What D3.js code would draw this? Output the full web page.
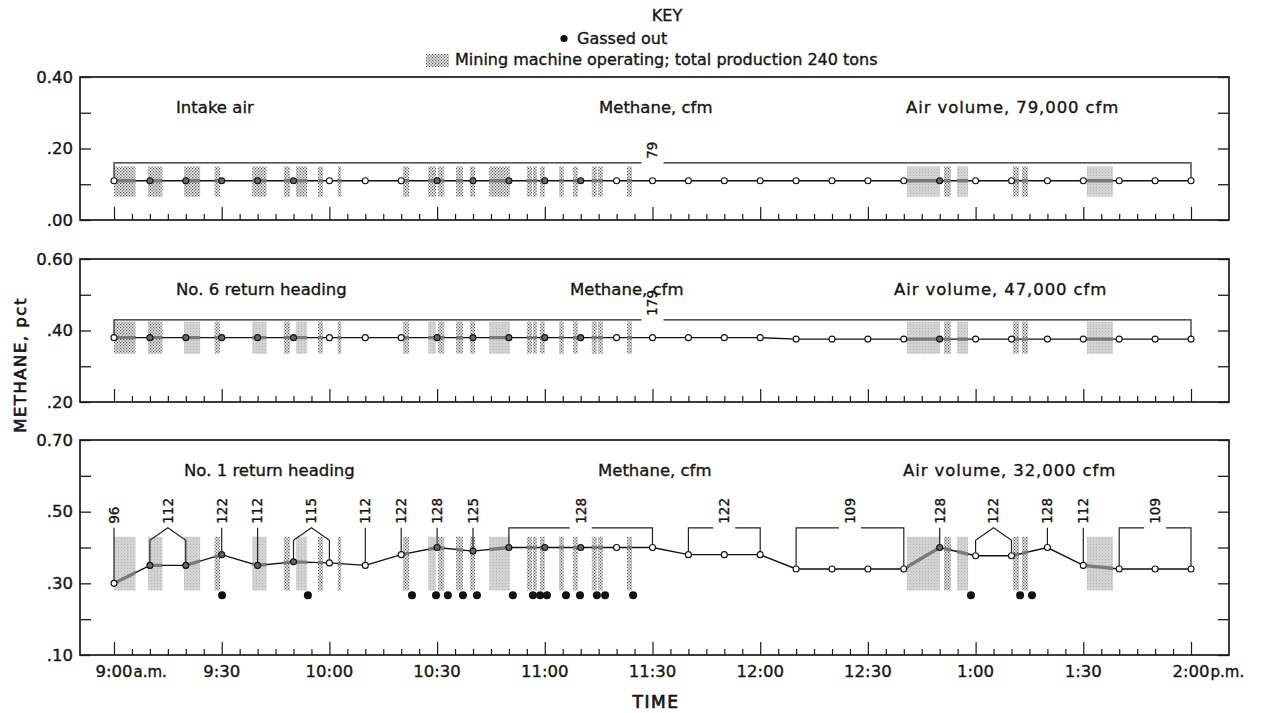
<!DOCTYPE html>
<html>
<head>
<meta charset="utf-8">
<script src="https://cdn.jsdelivr.net/npm/d3@7/dist/d3.min.js"></script>
<style>
  body { margin: 0; background: #fff; }
  svg text { font-family: "DejaVu Sans", sans-serif; fill: #151515; stroke: #151515; stroke-width: 0.35px; }
</style>
</head>
<body>
<div id="chart"></div>
<script>
// readings every 10 min, minutes after 9:00 a.m.
const readTimes = [0, 10, 20, 30, 40, 50, 60, 70, 80, 90, 100, 110, 120, 130, 140, 150,
    160, 170, 180, 190, 200, 210, 220, 230, 240, 250, 260, 270, 280, 290, 300];

// methane, pct
const intakePct = [0.11, 0.11, 0.11, 0.11, 0.11, 0.11, 0.11, 0.11, 0.11, 0.11, 0.11, 0.11, 0.11, 0.11, 0.11, 0.11,
    0.11, 0.11, 0.11, 0.11, 0.11, 0.11, 0.11, 0.11, 0.11, 0.11, 0.11, 0.11, 0.11, 0.11, 0.11];
const no6Pct = [0.38, 0.38, 0.38, 0.38, 0.38, 0.38, 0.38, 0.38, 0.38, 0.38, 0.38, 0.38, 0.38, 0.38, 0.38, 0.38,
    0.38, 0.38, 0.38, 0.376, 0.376, 0.376, 0.376, 0.376, 0.376, 0.376, 0.376, 0.376, 0.376, 0.376, 0.376];
const no1Pct = [0.30, 0.35, 0.35, 0.38, 0.35, 0.36, 0.357, 0.35, 0.38, 0.40, 0.39, 0.40, 0.40, 0.40, 0.40, 0.40,
    0.38, 0.38, 0.38, 0.34, 0.34, 0.34, 0.34, 0.40, 0.377, 0.377, 0.40, 0.35, 0.34, 0.34, 0.34];

// mining machine operating, [start, end] minutes after 9:00
const machineRuns = [[0, 6], [9.5, 13.5], [19.5, 24], [28, 29.5], [38.5, 42.5], [47.3, 49], [50.7, 53.8],
    [56.8, 58.2], [62.3, 63.3], [80.5, 82.2], [87.5, 89.7], [90.3, 92], [95.3, 97.2], [99.2, 100.6],
    [104.5, 110.3], [115, 116.4], [116.7, 117.8], [118.7, 120], [124, 125.3], [127.9, 129.2],
    [133.1, 134.5], [134.8, 136.2], [142.9, 144.3], [220.9, 230.1], [231.2, 233.1], [234.8, 237.9],
    [250.4, 252.1], [252.9, 254.6], [271, 278.3]];

// gassed out (No. 1 return heading), minutes after 9:00
const gassedOut = [30.1, 54, 83, 89.7, 93, 97.2, 101.1, 111.1, 116.7, 118.7, 120.6, 125.9, 129.8,
    134.5, 136.8, 144.6, 238.7, 252.4, 255.7];

// methane, cfm notes
const intakeNotes = [{cfm: "79", from: 0, to: 300, kind: "span"}];
const no6Notes = [{cfm: "179", from: 0, to: 300, kind: "span"}];
const no1Notes = [
    {cfm: "96", from: 0, to: 0, kind: "point"},
    {cfm: "112", from: 10, to: 20, kind: "pair"},
    {cfm: "122", from: 30, to: 30, kind: "point"},
    {cfm: "112", from: 40, to: 40, kind: "point"},
    {cfm: "115", from: 50, to: 60, kind: "pair"},
    {cfm: "112", from: 70, to: 70, kind: "point"},
    {cfm: "122", from: 80, to: 80, kind: "point"},
    {cfm: "128", from: 90, to: 90, kind: "point"},
    {cfm: "125", from: 100, to: 100, kind: "point"},
    {cfm: "128", from: 110, to: 150, kind: "span"},
    {cfm: "122", from: 160, to: 180, kind: "span"},
    {cfm: "109", from: 190, to: 220, kind: "span"},
    {cfm: "128", from: 230, to: 230, kind: "point"},
    {cfm: "122", from: 240, to: 250, kind: "pair"},
    {cfm: "128", from: 260, to: 260, kind: "point"},
    {cfm: "112", from: 270, to: 270, kind: "point"},
    {cfm: "109", from: 280, to: 300, kind: "span"}
];

const timeTicks = [0, 30, 60, 90, 120, 150, 180, 210, 240, 270, 300];
const timeLabels = ["9:00", "9:30", "10:00", "10:30", "11:00", "11:30", "12:00", "12:30", "1:00", "1:30", "2:00"];

const intakeTickLabels = [".00", ".20", "0.40"];
const no6TickLabels = [".20", ".40", "0.60"];
const no1TickLabels = [".10", ".30", ".50", "0.70"];

const panels = [
    {key: "intake", name: "Intake air", air: "Air volume, 79,000 cfm", nameX: 176, methX: 599, airX: 906,
        values: intakePct, notes: intakeNotes, tickLabels: intakeTickLabels,
        domain: [0, 0.4], top: 77, bottom: 220, band: [0.065, 0.15], bracket: 0.16},
    {key: "no6", name: "No. 6 return heading", air: "Air volume, 47,000 cfm", nameX: 176, methX: 570, airX: 894,
        values: no6Pct, notes: no6Notes, tickLabels: no6TickLabels,
        domain: [0.2, 0.6], top: 259, bottom: 402, band: [0.335, 0.425], bracket: 0.43},
    {key: "no1", name: "No. 1 return heading", air: "Air volume, 32,000 cfm", nameX: 184, methX: 598, airX: 903,
        values: no1Pct, notes: no1Notes, tickLabels: no1TickLabels,
        domain: [0.1, 0.7], top: 440, bottom: 655, band: [0.28, 0.43], bracket: 0.455, shoulder: 0.42,
        gassedLevel: 0.267}
];

const width = 1263, height = 713;
const left = 80, right = 1229;

const svg = d3.select("#chart").append("svg")
    .attr("width", width)
    .attr("height", height);

const defs = svg.append("defs");

// stipple like the key swatch
let stip = defs.append("pattern").attr("id", "stipple")
    .attr("patternUnits", "userSpaceOnUse").attr("width", 3).attr("height", 3);
stip.append("rect").attr("width", 3).attr("height", 3).attr("fill", "#ececec");
stip.append("rect").attr("x", 0).attr("y", 0).attr("width", 1.2).attr("height", 1.2).attr("fill", "#555");
stip.append("rect").attr("x", 1.5).attr("y", 1.5).attr("width", 1.2).attr("height", 1.2).attr("fill", "#555");

let grain = defs.append("pattern").attr("id", "grain")
    .attr("patternUnits", "userSpaceOnUse").attr("width", 3).attr("height", 3);
grain.append("rect").attr("width", 3).attr("height", 3).attr("fill", "#d3d3d3");
grain.append("rect").attr("x", 1).attr("y", 1).attr("width", 1).attr("height", 1).attr("fill", "#b4b4b4");

const x = d3.scaleLinear().domain([0, 300]).range([114, 1191]);

function bandFill(p, run) {
    if (run[1] - run[0] < 2) return "url(#stipple)";
    if (p.key === "intake" && run[0] < 180) return "url(#stipple)";
    if (p.key === "no6" && run[0] < 15) return "url(#stipple)";
    return "url(#grain)";
}

function inRun(t) {
    return machineRuns.some(r => t > r[0] && t <= r[1] + 1);
}

panels.forEach(p => {
    const y = d3.scaleLinear().domain(p.domain).range([p.bottom, p.top]);
    const g = svg.append("g").attr("class", "panel-" + p.key);
    const valueAt = t => p.values[readTimes.indexOf(t)];
    const r = 3;

    // machine operating bands
    g.selectAll(".run")
        .data(machineRuns)
        .enter()
        .append("rect")
        .attr("class", "run")
        .attr("x", d => x(d[0]))
        .attr("width", d => x(d[1]) - x(d[0]))
        .attr("y", y(p.band[1]))
        .attr("height", y(p.band[0]) - y(p.band[1]))
        .attr("fill", d => bandFill(p, d));

    // methane cfm notes
    const yb = y(p.bracket);
    p.notes.forEach(n => {
        const x0 = x(n.from), x1 = x(n.to), xm = (x0 + x1) / 2;
        const y0 = y(valueAt(n.from)) - r, y1 = y(valueAt(n.to)) - r;
        let path = d3.path();
        if (n.kind === "point") {
            path.moveTo(xm, yb);
            path.lineTo(xm, y0);
        } else if (n.kind === "pair") {
            const ys = y(p.shoulder);
            path.moveTo(x0, y0);
            path.lineTo(x0, ys);
            path.lineTo(xm, yb);
            path.lineTo(x1, ys);
            path.lineTo(x1, y1);
        } else {
            path.moveTo(x0, y0);
            path.lineTo(x0, yb);
            path.lineTo(xm - 11, yb);
            path.moveTo(xm + 11, yb);
            path.lineTo(x1, yb);
            path.lineTo(x1, y1);
        }
        g.append("path")
            .attr("d", path.toString())
            .attr("fill", "none")
            .attr("stroke", "#222")
            .attr("stroke-width", 1.2);
        g.append("text")
            .attr("transform", `translate(${xm},${yb - 4}) rotate(-90)`)
            .attr("dy", "0.36em")
            .attr("font-size", 13.5)
            .text(n.cfm);
    });

    // methane pct line
    const line = d3.line()
        .x((d, i) => x(readTimes[i]))
        .y(d => y(d));

    g.append("path")
        .datum(p.values)
        .attr("d", line)
        .attr("fill", "none")
        .attr("stroke", "#111")
        .attr("stroke-width", 1.4);

    const clip = defs.append("clipPath").attr("id", "clip-" + p.key);
    clip.selectAll("rect")
        .data(machineRuns)
        .enter()
        .append("rect")
        .attr("x", d => x(d[0]))
        .attr("width", d => x(d[1]) - x(d[0]))
        .attr("y", p.top)
        .attr("height", p.bottom - p.top);

    g.append("path")
        .datum(p.values)
        .attr("d", line)
        .attr("clip-path", `url(#clip-${p.key})`)
        .attr("fill", "none")
        .attr("stroke", "#7a7a7a")
        .attr("stroke-width", 3.4);

    g.selectAll(".pt")
        .data(p.values)
        .enter()
        .append("circle")
        .attr("class", "pt")
        .attr("cx", (d, i) => x(readTimes[i]))
        .attr("cy", d => y(d))
        .attr("r", r)
        .attr("fill", (d, i) => inRun(readTimes[i]) ? "#666" : "#fff")
        .attr("stroke", "#111")
        .attr("stroke-width", 1.1);

    if (p.gassedLevel) {
        g.selectAll(".gas")
            .data(gassedOut)
            .enter()
            .append("circle")
            .attr("class", "gas")
            .attr("cx", d => x(d))
            .attr("cy", y(p.gassedLevel))
            .attr("r", 4)
            .attr("fill", "#111");
    }

    // frame
    g.append("rect")
        .attr("x", left)
        .attr("y", p.top)
        .attr("width", right - left)
        .attr("height", p.bottom - p.top)
        .attr("fill", "none")
        .attr("stroke", "#1a1a1a")
        .attr("stroke-width", 1.7);

    // axes
    const yTicks = d3.range(p.domain[0], p.domain[1] + 0.001, 0.1);
    const yLeft = d3.axisLeft(y)
        .tickValues(yTicks)
        .tickSizeInner(-11)
        .tickSizeOuter(0)
        .tickPadding(7)
        .tickFormat((d, i) => i % 2 === 0 ? p.tickLabels[i / 2] : "");

    g.append("g")
        .attr("transform", `translate(${left},0)`)
        .call(yLeft)
        .call(a => a.select(".domain").remove())
        .call(a => a.attr("font-family", null).attr("font-size", null))
        .call(a => a.selectAll(".tick line").attr("stroke", "#1a1a1a").attr("stroke-width", 1.3))
        .call(a => a.selectAll(".tick text").attr("font-size", 16.5).attr("fill", "#151515"));

    g.append("g")
        .attr("transform", `translate(${right},0)`)
        .call(d3.axisRight(y).tickValues(yTicks).tickSizeInner(-11).tickSizeOuter(0).tickFormat(""))
        .call(a => a.select(".domain").remove())
        .call(a => a.selectAll(".tick line").attr("stroke", "#1a1a1a").attr("stroke-width", 1.3));

    g.append("g")
        .attr("transform", `translate(0,${p.bottom})`)
        .call(d3.axisBottom(x).tickValues(d3.range(0, 301, 5)).tickSizeInner(-6).tickSizeOuter(0).tickFormat(""))
        .call(a => a.select(".domain").remove())
        .call(a => a.selectAll(".tick line")
            .attr("y2", d => d % 30 === 0 ? -13 : -6)
            .attr("stroke", "#1a1a1a")
            .attr("stroke-width", 1.2));

    // panel titles
    const ty = p.top + 36;
    g.append("text").attr("x", p.nameX).attr("y", ty).attr("font-size", 16.5).text(p.name);
    g.append("text").attr("x", p.methX).attr("y", ty).attr("font-size", 16.5).text("Methane, cfm");
    g.append("text").attr("x", p.airX).attr("y", ty).attr("font-size", 16.5)
        .attr("letter-spacing", 0.9).text(p.air);
});

// time labels under the bottom panel
const timeG = svg.append("g");
timeTicks.forEach((t, i) => {
    const lab = timeG.append("text")
        .attr("x", x(t))
        .attr("y", 677)
        .attr("text-anchor", "middle")
        .attr("font-size", 16.5)
        .text(timeLabels[i]);
    if (i === 0 || i === timeTicks.length - 1) {
        const w = lab.node().getComputedTextLength();
        timeG.append("text")
            .attr("x", x(t) + w / 2 + 1)
            .attr("y", 677)
            .attr("font-size", 15)
            .text(i === 0 ? "a.m." : "p.m.");
    }
});

svg.append("text")
    .attr("x", 656)
    .attr("y", 708)
    .attr("text-anchor", "middle")
    .attr("font-size", 17)
    .attr("letter-spacing", 1.5)
    .style("stroke-width", "0.7px")
    .text("TIME");

svg.append("text")
    .attr("transform", "translate(20,365) rotate(-90)")
    .attr("text-anchor", "middle")
    .attr("dy", "0.36em")
    .attr("font-size", 16.5)
    .attr("letter-spacing", 1.5)
    .style("stroke-width", "0.6px")
    .text("METHANE, pct");

// key
svg.append("text")
    .attr("x", 667)
    .attr("y", 21)
    .attr("text-anchor", "middle")
    .attr("font-size", 16)
    .text("KEY");

svg.append("circle").attr("cx", 564).attr("cy", 38.5).attr("r", 3.6).attr("fill", "#111");
svg.append("text").attr("x", 577).attr("y", 44).attr("font-size", 16).text("Gassed out");

svg.append("rect")
    .attr("x", 426).attr("y", 54).attr("width", 23).attr("height", 13)
    .attr("fill", "url(#stipple)");
svg.append("text").attr("x", 455).attr("y", 65).attr("font-size", 16)
    .text("Mining machine operating; total production 240 tons");
</script>
</body>
</html>
